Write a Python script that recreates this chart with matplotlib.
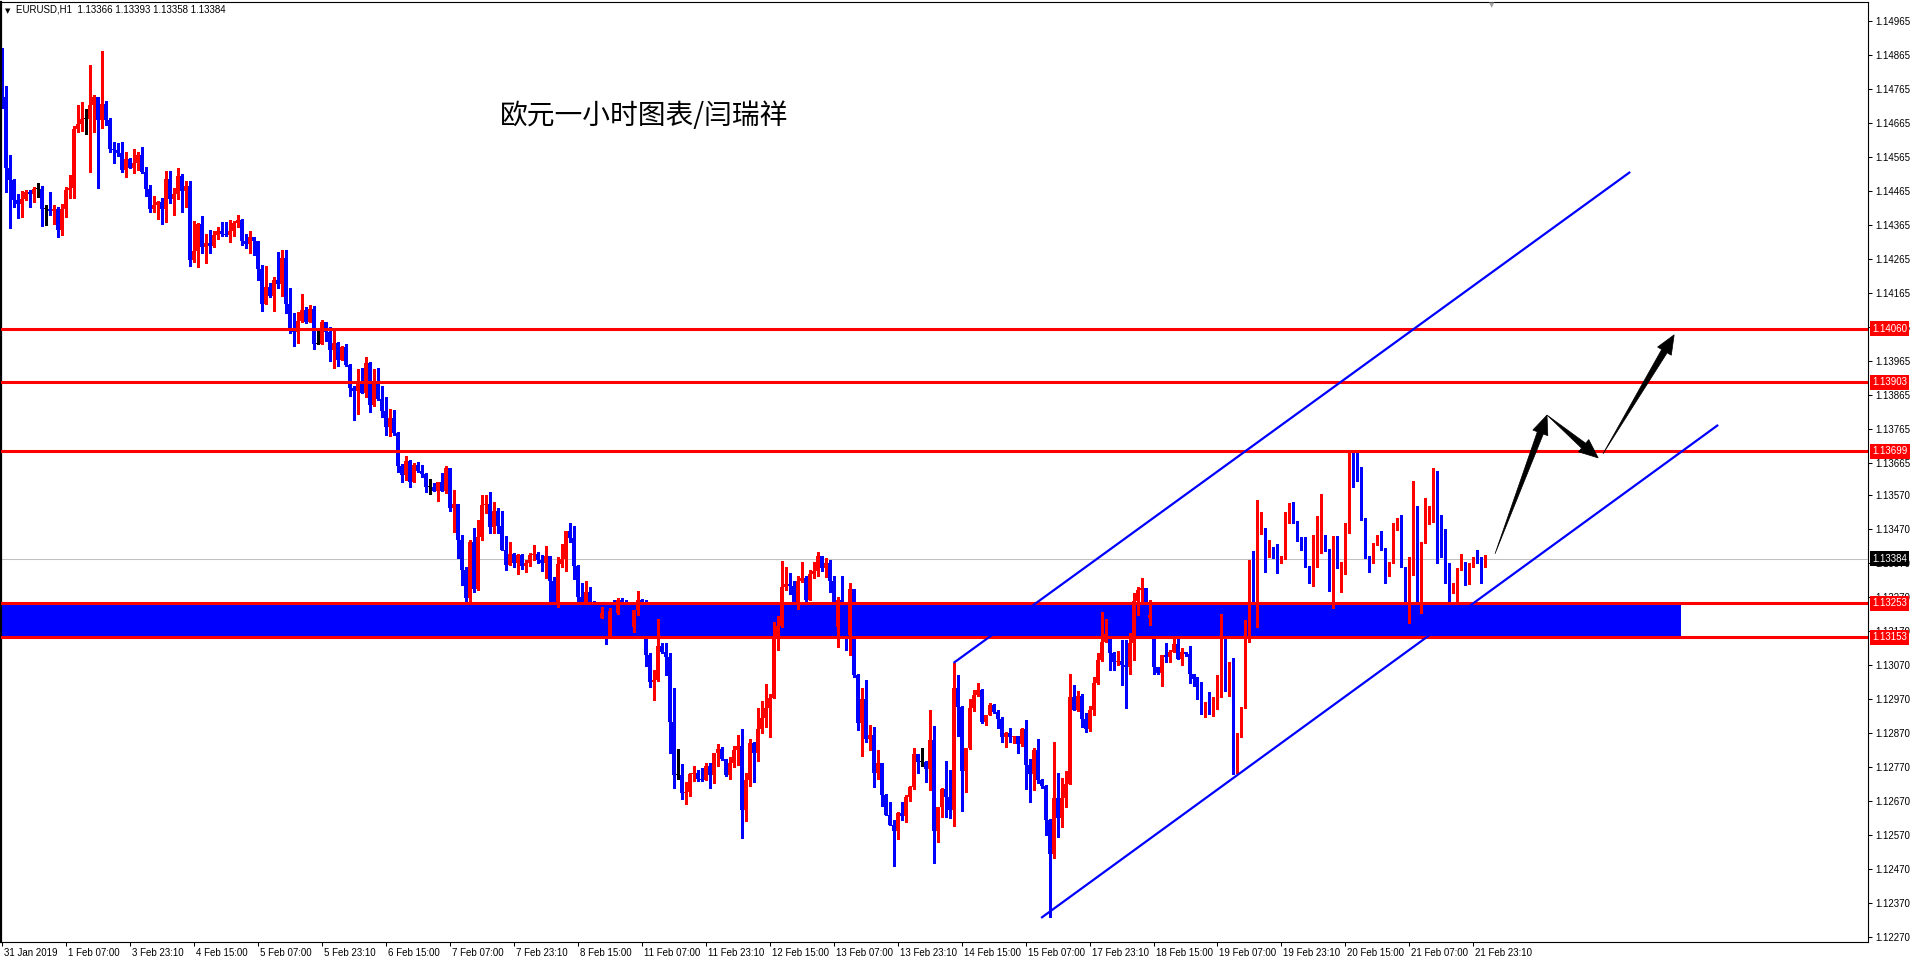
import numpy as np
import matplotlib
matplotlib.use("Agg")
import matplotlib.pyplot as plt
from matplotlib.patches import Polygon, Rectangle
from matplotlib.transforms import blended_transform_factory, IdentityTransform, ScaledTranslation

plt.rcParams['font.family'] = ['Liberation Sans', 'DejaVu Sans']

# chart header
symbol_line = "EURUSD,H1  1.13366 1.13393 1.13358 1.13384"
title = "欧元一小时图表/闫瑞祥"

# hourly candles, prices as 1e-5 above 1.00000 (open = previous close)
first_open = 14865
close_pts = [
    14742, 14533, 14498, 14439, 14427, 14442, 14462, 14456, 14471, 14471,
    14412, 14412, 14406, 14412, 14351, 14412, 14468, 14474, 14648, 14662,
    14677, 14677, 14718, 14742, 14674, 14721, 14674, 14589, 14586, 14577,
    14527, 14559, 14533, 14548, 14571, 14521, 14471, 14412, 14424, 14433,
    14412, 14501, 14442, 14456, 14509, 14465, 14480, 14262, 14289, 14368,
    14301, 14312, 14303, 14336, 14348, 14339, 14336, 14348, 14371, 14380,
    14318, 14309, 14330, 14318, 14236, 14133, 14183, 14156, 14203, 14192,
    14268, 14133, 14056, 14051, 14083, 14115, 14080, 14118, 14015, 14015,
    14080, 14051, 13998, 14018, 13968, 14006, 13953, 13886, 13877, 13903,
    13871, 13959, 13836, 13906, 13853, 13818, 13771, 13798, 13753, 13656,
    13630, 13671, 13609, 13659, 13642, 13633, 13595, 13595, 13583, 13609,
    13583, 13651, 13533, 13545, 13439, 13351, 13268, 13433, 13295, 13448,
    13542, 13545, 13477, 13524, 13480, 13409, 13365, 13398, 13371, 13395,
    13362, 13371, 13395, 13398, 13380, 13371, 13392, 13318, 13253, 13368,
    13383, 13465, 13445, 13362, 13271, 13253, 13286, 13253, 13250, 13209,
    13224, 13156, 13230, 13224, 13262, 13253, 13218, 13183, 13233, 13262,
    13253, 13101, 13021, 13027, 13127, 13109, 13095, 12903, 12748, 12748,
    12695, 12698, 12751, 12753, 12736, 12733, 12774, 12748, 12812, 12824,
    12795, 12748, 12783, 12821, 12833, 12645, 12733, 12842, 12812, 12883,
    12915, 12945, 12974, 13153, 13186, 13301, 13309, 13303, 13253, 13318,
    13327, 13262, 13339, 13348, 13392, 13356, 13371, 13318, 13183, 13262,
    13253, 13159, 13295, 13042, 12901, 12971, 12853, 12865, 12753, 12783,
    12689, 12630, 12601, 12583, 12636, 12627, 12683, 12712, 12809, 12786,
    12786, 12765, 12851, 12583, 12653, 12706, 12683, 12645, 13003, 12948,
    12759, 12827, 12945, 12983, 12998, 12903, 12924, 12953, 12933, 12912,
    12859, 12871, 12859, 12862, 12839, 12883, 12777, 12751, 12821, 12733,
    12715, 12615, 12515, 12680, 12621, 12680, 12721, 12977, 12939, 12980,
    12912, 12883, 12939, 13018, 13086, 13139, 13162, 13106, 13080, 13083,
    13071, 13065, 13136, 13259, 13292, 13298, 13209, 13218, 13065, 13048,
    13101, 13095, 13109, 13133, 13089, 13109, 13103, 13045, 13030, 12998,
    12942, 12962, 12948, 12977, 12983, 13198, 13018, 13059, 12818, 12859,
    12948, 13177, 13318, 13256, 13462, 13471, 13392, 13418, 13386, 13371,
    13389, 13489, 13524, 13489, 13436, 13424, 13362, 13327, 13427, 13439,
    13448, 13412, 13345, 13386, 13356, 13374, 13471, 13662, 13651, 13615,
    13501, 13389, 13374, 13430, 13448, 13412, 13333, 13374, 13471, 13489,
    13359, 13292, 13339, 13539, 13256, 13433, 13492, 13495, 13606, 13462,
    13418, 13371, 13283, 13295, 13353, 13374, 13309, 13362, 13389, 13380,
    13366, 13384,
]
high_pts = [
    14886, 14774, 14571, 14501, 14456, 14465, 14468, 14468, 14477, 14489,
    14480, 14424, 14462, 14424, 14418, 14427, 14477, 14512, 14656, 14718,
    14727, 14706, 14836, 14748, 14742, 14877, 14730, 14680, 14609, 14606,
    14609, 14580, 14562, 14589, 14580, 14595, 14536, 14483, 14451, 14436,
    14445, 14524, 14524, 14474, 14533, 14515, 14495, 14495, 14377, 14371,
    14392, 14339, 14351, 14348, 14359, 14374, 14374, 14380, 14377, 14395,
    14383, 14339, 14348, 14330, 14318, 14248, 14245, 14195, 14212, 14286,
    14292, 14292, 14180, 14106, 14109, 14162, 14124, 14130, 14127, 14059,
    14086, 14080, 14065, 14059, 14021, 14009, 14015, 13956, 13892, 13942,
    13945, 13977, 13962, 13942, 13945, 13892, 13859, 13824, 13821, 13756,
    13662, 13686, 13674, 13665, 13668, 13659, 13636, 13618, 13606, 13609,
    13636, 13656, 13651, 13586, 13545, 13453, 13359, 13439, 13474, 13498,
    13571, 13571, 13580, 13551, 13533, 13524, 13451, 13433, 13401, 13398,
    13398, 13380, 13401, 13424, 13403, 13395, 13421, 13392, 13330, 13389,
    13427, 13465, 13489, 13480, 13365, 13312, 13318, 13301, 13259, 13253,
    13242, 13224, 13239, 13262, 13268, 13268, 13262, 13233, 13233, 13289,
    13265, 13262, 13106, 13056, 13206, 13136, 13136, 13106, 13003, 12824,
    12780, 12727, 12753, 12774, 12762, 12768, 12783, 12783, 12812, 12839,
    12830, 12795, 12801, 12833, 12865, 12883, 12753, 12853, 12845, 12945,
    12965, 13015, 12986, 13198, 13215, 13377, 13359, 13342, 13318, 13333,
    13374, 13333, 13351, 13374, 13403, 13392, 13386, 13380, 13333, 13271,
    13333, 13253, 13312, 13295, 13045, 13003, 13027, 12895, 12889, 12821,
    12783, 12692, 12668, 12615, 12639, 12668, 12689, 12715, 12827, 12809,
    12827, 12789, 12939, 12892, 12653, 12709, 12789, 12762, 13077, 13042,
    12951, 12827, 12971, 12998, 13018, 13001, 12924, 12959, 12956, 12939,
    12918, 12874, 12886, 12862, 12862, 12886, 12909, 12795, 12827, 12853,
    12736, 12718, 12618, 12845, 12753, 12739, 12759, 13045, 13012, 12995,
    12986, 12930, 12951, 13036, 13106, 13227, 13206, 13162, 13109, 13112,
    13145, 13145, 13165, 13283, 13301, 13327, 13298, 13262, 13218, 13065,
    13101, 13136, 13115, 13148, 13148, 13121, 13109, 13127, 13045, 13036,
    13021, 12962, 12992, 12977, 13042, 13221, 13221, 13080, 13092, 12871,
    12948, 13203, 13380, 13406, 13556, 13521, 13474, 13439, 13418, 13427,
    13392, 13521, 13548, 13551, 13495, 13448, 13448, 13362, 13453, 13509,
    13574, 13453, 13412, 13451, 13451, 13374, 13489, 13695, 13695, 13695,
    13653, 13503, 13392, 13430, 13453, 13465, 13415, 13374, 13489, 13503,
    13512, 13359, 13389, 13612, 13536, 13433, 13562, 13539, 13651, 13642,
    13512, 13471, 13371, 13312, 13356, 13398, 13371, 13371, 13389, 13409,
    13389, 13393,
]
low_pts = [
    14709, 14462, 14356, 14418, 14386, 14389, 14439, 14418, 14433, 14448,
    14362, 14365, 14395, 14368, 14330, 14336, 14389, 14445, 14445, 14639,
    14642, 14633, 14521, 14639, 14474, 14651, 14659, 14580, 14548, 14568,
    14521, 14506, 14533, 14518, 14527, 14518, 14451, 14403, 14403, 14383,
    14368, 14374, 14430, 14395, 14442, 14403, 14418, 14245, 14256, 14242,
    14283, 14253, 14283, 14301, 14324, 14333, 14333, 14315, 14333, 14359,
    14306, 14298, 14283, 14277, 14203, 14112, 14133, 14153, 14112, 14180,
    14156, 14106, 14048, 14009, 14018, 14080, 14077, 14080, 14001, 14018,
    14036, 14024, 13965, 13945, 13951, 13968, 13951, 13862, 13792, 13809,
    13871, 13859, 13815, 13833, 13851, 13801, 13748, 13745, 13748, 13639,
    13609, 13615, 13595, 13609, 13639, 13624, 13580, 13574, 13583, 13553,
    13583, 13577, 13524, 13462, 13386, 13306, 13253, 13256, 13286, 13292,
    13439, 13518, 13459, 13459, 13459, 13409, 13351, 13368, 13359, 13339,
    13353, 13345, 13362, 13380, 13371, 13348, 13327, 13253, 13253, 13242,
    13359, 13348, 13433, 13324, 13253, 13242, 13253, 13253, 13248, 13203,
    13209, 13133, 13151, 13203, 13221, 13253, 13203, 13168, 13168, 13218,
    13253, 13068, 13006, 12968, 13024, 13106, 13042, 12812, 12709, 12736,
    12677, 12662, 12686, 12730, 12730, 12730, 12745, 12709, 12724, 12774,
    12792, 12745, 12736, 12771, 12777, 12562, 12612, 12715, 12727, 12789,
    12871, 12889, 12859, 12974, 13115, 13183, 13292, 13280, 13253, 13236,
    13315, 13256, 13262, 13327, 13333, 13348, 13330, 13286, 13174, 13124,
    13253, 13115, 13101, 13036, 12880, 12803, 12845, 12821, 12712, 12736,
    12656, 12630, 12601, 12480, 12559, 12615, 12609, 12671, 12706, 12753,
    12774, 12727, 12703, 12489, 12551, 12624, 12624, 12621, 12598, 12862,
    12642, 12698, 12824, 12936, 12980, 12901, 12895, 12936, 12930, 12886,
    12845, 12830, 12845, 12842, 12812, 12833, 12706, 12668, 12703, 12724,
    12709, 12571, 12330, 12503, 12565, 12595, 12653, 12721, 12939, 12936,
    12889, 12874, 12877, 12924, 13015, 13083, 13142, 13056, 13056, 13071,
    13012, 12945, 13045, 13086, 13218, 13253, 13203, 13189, 13045, 13045,
    13009, 13080, 13080, 13109, 13089, 13071, 13098, 13018, 13009, 12971,
    12927, 12918, 12927, 12921, 12942, 12977, 12995, 12980, 12751, 12753,
    12859, 12945, 13139, 13256, 13183, 13456, 13345, 13389, 13386, 13342,
    13371, 13383, 13489, 13489, 13436, 13409, 13359, 13312, 13303, 13359,
    13401, 13406, 13289, 13239, 13356, 13286, 13339, 13459, 13595, 13612,
    13498, 13386, 13345, 13371, 13424, 13409, 13312, 13333, 13371, 13468,
    13359, 13253, 13195, 13336, 13256, 13224, 13430, 13486, 13492, 13371,
    13389, 13312, 13256, 13283, 13256, 13351, 13306, 13309, 13359, 13371,
    13312, 13358,
]

time_labels = ["31 Jan 2019", "1 Feb 07:00", "3 Feb 23:10", "4 Feb 15:00", "5 Feb 07:00",
               "5 Feb 23:10", "6 Feb 15:00", "7 Feb 07:00", "7 Feb 23:10", "8 Feb 15:00",
               "11 Feb 07:00", "11 Feb 23:10", "12 Feb 15:00", "13 Feb 07:00", "13 Feb 23:10",
               "14 Feb 15:00", "15 Feb 07:00", "17 Feb 23:10", "18 Feb 15:00", "19 Feb 07:00",
               "19 Feb 23:10", "20 Feb 15:00", "21 Feb 07:00", "21 Feb 23:10"]
bars_per_label = 16

price_ticks = [1.14965, 1.14865, 1.14765, 1.14665, 1.14565, 1.14465, 1.14365, 1.14265,
               1.14165, 1.14065, 1.13965, 1.13865, 1.13765, 1.13665, 1.13570, 1.13470,
               1.13370, 1.13270, 1.13170, 1.13070, 1.12970, 1.12870, 1.12770, 1.12670,
               1.12570, 1.12470, 1.12370, 1.12270]

levels = [1.14060, 1.13903, 1.13699, 1.13253, 1.13153]
zone_low, zone_high = 1.13153, 1.13253
zone_end_bar = 420
bid = 1.13384

# trend channel (bar index, price)
upper_line = [(238.0, 1.13077), (407.2, 1.14521)]
lower_line = [(259.9, 1.12327), (429.2, 1.13777)]
# projection arrows (tail, tip)
arrows = [((373.4, 1.13398), (386.4, 1.13806)),
          ((386.4, 1.13806), (399.2, 1.13680)),
          ((400.4, 1.13692), (418.2, 1.14042))]

n = min(len(close_pts), len(high_pts), len(low_pts))
close = 1 + np.array(close_pts[:n]) / 1e5
high = 1 + np.array(high_pts[:n]) / 1e5
low = 1 + np.array(low_pts[:n]) / 1e5
opn = np.concatenate([[1 + first_open / 1e5], close[:-1]])
high = np.maximum(high, np.maximum(opn, close))
low = np.minimum(low, np.minimum(opn, close))
x = np.arange(n)

W, H = 1910, 960
fig = plt.figure(figsize=(W / 100, H / 100), dpi=100)
ax = fig.add_axes([0.5 / W, 18 / H, 1867.5 / W, 940 / H])
ax.set_xlim(-0.33, 466.67)
ax.set_ylim(1.122562, 1.150209)
px = (1.150209 - 1.122562) / 940

cols = np.where(close > opn, '#ff0000', np.where(close < opn, '#0000ff', '#000000'))

ax.add_patch(Rectangle((-0.33, zone_low), zone_end_bar + 0.33, zone_high - zone_low,
                       facecolor='#0000ff', edgecolor='none', zorder=1))
ax.axhline(bid, color='#c0c0c0', lw=0.75, zorder=1.5)

ax.vlines(x, low, high, colors=cols, lw=0.75, antialiased=False, zorder=2)
body_lo = np.minimum(opn, close)
body_h = np.maximum(np.abs(close - opn), px)
ax.bar(x, body_h, bottom=body_lo, width=0.75, color=cols, linewidth=0,
       antialiased=False, zorder=2.1)

for lv in levels:
    ax.axhline(lv, color='#ff0000', lw=2.2, zorder=3)

for ln in (upper_line, lower_line):
    ax.plot([p[0] for p in ln], [p[1] for p in ln], color='#0000ff', lw=1.6,
            solid_capstyle='butt', zorder=3.5)

# tapered arrows in pixel space
for tail, tip in arrows:
    t = ax.transData.transform(tail)
    p = ax.transData.transform(tip)
    d = (p - t) / np.hypot(*(p - t))
    nv = np.array([-d[1], d[0]])
    b = p - d * 19
    pts = [t, b + nv * 3.2, b + nv * 8, p, b - nv * 8, b - nv * 3.2]
    fig.add_artist(Polygon(pts, closed=True, facecolor='black', edgecolor='black',
                           lw=0.5, transform=IdentityTransform(), zorder=6))

for s in ax.spines.values():
    s.set_color('black')
    s.set_linewidth(0.8)
ax.spines['left'].set_linewidth(1.6)

ax.yaxis.tick_right()
ax.set_yticks(price_ticks)
ax.set_yticklabels([f"{v:.5f}" for v in price_ticks])
ax.tick_params(axis='y', direction='out', length=3, width=0.75, pad=2, labelsize=7)
ax.set_xticks(np.arange(len(time_labels)) * bars_per_label)
ax.set_xticklabels(time_labels)
ax.tick_params(axis='x', direction='out', length=3, width=0.75, pad=1, labelsize=7)
off = ScaledTranslation(2 / 100, 0, fig.dpi_scale_trans)
for lbl in ax.get_xticklabels():
    lbl.set_horizontalalignment('left')
    lbl.set_transform(lbl.get_transform() + off)

tr = blended_transform_factory(ax.transAxes, ax.transData)
for lv in levels:
    ax.text(1 + 4 / 1867.5, lv, f"{lv:.5f}", transform=tr, ha='left', va='center',
            fontsize=7, color='white', clip_on=False, zorder=10,
            bbox=dict(boxstyle='square,pad=0.25', fc='#ff0000', ec='none'))
ax.text(1 + 4 / 1867.5, bid, f"{bid:.5f}", transform=tr, ha='left', va='center',
        fontsize=7, color='white', clip_on=False, zorder=10,
        bbox=dict(boxstyle='square,pad=0.25', fc='black', ec='none'))

fig.text(5 / W, 1 - 11 / H, "▼", fontsize=5, va='center', ha='left', family=['DejaVu Sans'])
fig.text(16 / W, 1 - 10 / H, symbol_line, fontsize=7, va='center', ha='left')
fig.text(1492 / W, 1 - 5 / H, "▼", fontsize=5, va='center', ha='center', color='#a0a0a0',
         family=['DejaVu Sans'])
fig.text(500 / W, 1 - 116 / H, title, fontsize=20, va='center', ha='left',
         family=['Noto Sans CJK SC', 'DejaVu Sans'])

fig.savefig("out.png", dpi=100, facecolor='white')
